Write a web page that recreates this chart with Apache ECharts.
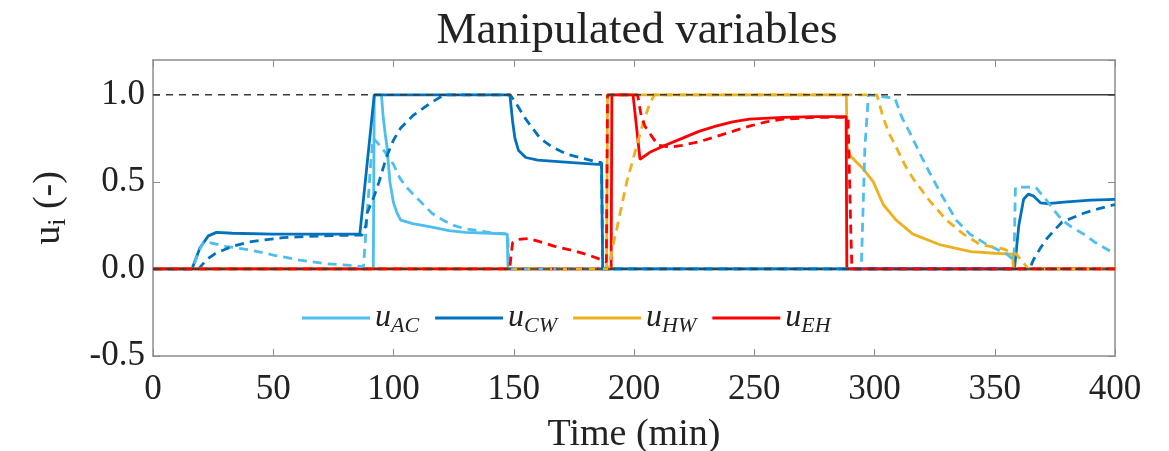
<!DOCTYPE html>
<html>
<head>
<meta charset="utf-8">
<script src="https://cdn.jsdelivr.net/npm/echarts@6/dist/echarts.min.js"></script>
<style>
  html, body { margin: 0; padding: 0; background: #fff; }
  #chart { width: 1169px; height: 451px; }
</style>
</head>
<body>
<div id="chart"></div>
<script>
// time (min), value (-)
var uAC = [[0,0],[91.6,0],[92,1],[95,1],[95.6,0.89],[96.5,0.78],[97.3,0.7],[98.5,0.5],[100,0.38],[101.5,0.32],[103,0.28],[108,0.26],[116,0.24],[123,0.22],[130,0.21],[140,0.205],[147.3,0.2],[147.6,0],[400,0]];
var uACp = [[0,0],[16.5,0],[19,0.1],[21,0.155],[24,0.15],[30,0.13],[40,0.11],[50,0.08],[61,0.05],[72,0.03],[82,0.02],[87.5,0.012],[88,0.02],[89,0.3],[90.5,0.6],[91.5,0.75],[93,0.73],[96,0.68],[100,0.6],[102.7,0.52],[106,0.46],[111,0.39],[116,0.32],[120.6,0.28],[125,0.25],[130,0.23],[140,0.21],[147.5,0.2],[148,0],[294.5,0],[296,0.7],[297.5,1],[308.5,0.98],[311.4,0.87],[314.8,0.78],[319,0.66],[323,0.55],[328.5,0.41],[334,0.28],[339.7,0.2],[346.8,0.14],[355,0.085],[358,0.05],[358.6,0.47],[367,0.47],[370,0.42],[374,0.35],[378,0.28],[382,0.24],[387,0.2],[392,0.15],[397,0.11],[400,0.09]];
var uCW = [[0,0],[16.2,0],[19.5,0.12],[23,0.19],[26.4,0.21],[33,0.205],[50,0.2],[86,0.2],[92,1],[148.4,1],[149.5,0.85],[150.5,0.75],[152,0.68],[155,0.64],[160,0.625],[170,0.615],[185,0.6],[186.5,0.6],[187,0],[358.2,0],[360,0.25],[362,0.4],[364,0.43],[366,0.42],[369,0.38],[372,0.375],[380,0.385],[390,0.395],[400,0.4]];
var uCWp = [[0,0],[19,0],[22,0.05],[26,0.09],[33,0.13],[40,0.155],[54,0.18],[70,0.19],[87,0.195],[88.5,0.25],[89,0.32],[92,0.42],[94,0.5],[97,0.64],[100,0.74],[103,0.81],[108,0.88],[115,0.95],[121,1],[148.5,1],[151,0.95],[155,0.86],[161,0.75],[166,0.7],[172,0.66],[183,0.62],[186.5,0.61],[187,0],[364.5,0],[366,0.05],[369,0.12],[372,0.18],[378,0.27],[387,0.32],[393,0.345],[400,0.37]];
var uHW = [[0,0],[188.6,0],[189,1],[288.3,1],[288.6,0.7],[290,0.65],[292,0.62],[295,0.58],[299.5,0.5],[303.6,0.37],[309,0.28],[316,0.2],[327,0.14],[340,0.1],[350,0.09],[357.4,0.085],[357.8,0],[400,0]];
var uHWp = [[0,0],[189.5,0],[191,0.12],[193,0.24],[197,0.5],[201,0.7],[204,0.85],[206.6,0.95],[208.5,1],[301,1],[303.6,0.87],[306,0.78],[309,0.7],[312.5,0.6],[316,0.52],[323,0.39],[330,0.28],[337,0.2],[344,0.14],[353.5,0.115],[359,0.085],[361,0.05],[364,0],[400,0]];
var uEH = [[0,0],[190.5,0],[190.8,1],[199.6,1],[202.5,0.63],[206.6,0.67],[213,0.71],[220,0.75],[227,0.79],[234,0.82],[241,0.845],[248,0.86],[262,0.87],[275,0.875],[288.2,0.875],[288.5,0],[400,0]];
var uEHp = [[0,0],[148.3,0],[149.5,0.15],[152,0.17],[156,0.175],[160,0.16],[167,0.13],[175,0.105],[181,0.08],[187,0.05],[188.5,0.04],[189,1],[201.5,1],[203,0.88],[204.5,0.82],[207.5,0.76],[210,0.71],[215,0.7],[220,0.71],[227,0.73],[234,0.76],[241,0.79],[248,0.82],[255,0.845],[262,0.86],[275,0.87],[289,0.87],[290,0.3],[290.6,0],[400,0]];
// limits
var upperDash = [[0,1],[315,1]];
var upperSolid = [[315,1],[400,1]];
var lowerDash = [[0,0],[400,0]];
var lowerSolid = [[358,0],[400,0]];

var names = { 'AC': '#4dbeee', 'CW': '#0072bd', 'HW': '#edb120', 'EH': '#ff0000' };
var serif = '"Liberation Serif", "Times New Roman", serif';

function solid(name, data, color) {
	return {
		name: name, type: 'line', data: data, showSymbol: false, z: 2,
		lineStyle: { color: color, width: 2.8 }, itemStyle: { color: color }
	};
}
function dashed(name, data, color) {
	return {
		name: name, type: 'line', data: data, showSymbol: false, z: 4,
		lineStyle: { color: color, width: 2.8, type: [9, 6] }, itemStyle: { color: color }
	};
}
function limit(name, data, type, z) {
	return {
		name: name, type: 'line', data: data, showSymbol: false, z: z, silent: true,
		lineStyle: { color: '#3a3a3a', width: 1.6, type: type }
	};
}

var axisCol = '#8c8c8c';
function frameAxis(extra) {
	var a = {
		axisLine: { show: true, onZero: false, lineStyle: { color: axisCol, width: 1.5 } },
		axisTick: { inside: true, length: 7, lineStyle: { color: axisCol } },
		splitLine: { show: false }
	};
	for (var k in extra) a[k] = extra[k];
	return a;
}

var myChart = echarts.init(document.getElementById('chart'));

var options = {
	animation: false,
	backgroundColor: '#fff',
	title: {
		text: 'Manipulated variables',
		left: 632, top: 4, textAlign: 'center',
		textStyle: { fontFamily: serif, fontWeight: 'normal', fontSize: 45, color: '#222' }
	},
	legend: {
		data: ['AC', 'CW', 'HW', 'EH'],
		left: 297, top: 297,
		icon: 'rect', itemWidth: 68, itemHeight: 3, itemGap: 16,
		formatter: function(name) { return '{u|u}{s|' + name + '}'; },
		textStyle: {
			color: '#222',
			rich: {
				u: { fontFamily: serif, fontStyle: 'italic', fontSize: 32, color: '#222' },
				s: { fontFamily: serif, fontStyle: 'italic', fontSize: 22, color: '#222', padding: [16, 0, 0, 0] }
			}
		}
	},
	grid: { left: 153, right: 54, top: 60, bottom: 95, outerBoundsMode: 'none', containLabel: false },
	xAxis: [
		frameAxis({
			type: 'value', min: 0, max: 400, interval: 50, position: 'bottom',
			name: 'Time (min)', nameLocation: 'middle', nameGap: 60,
			nameTextStyle: { fontFamily: serif, fontSize: 38, color: '#222' },
			axisLabel: { fontFamily: serif, fontSize: 35, color: '#222', margin: 16 }
		}),
		frameAxis({
			type: 'value', min: 0, max: 400, interval: 50, position: 'top',
			axisLabel: { show: false }
		})
	],
	yAxis: [
		frameAxis({
			type: 'value', min: -0.5, max: 1.2, interval: 0.5, position: 'left',
			name: '{u|u}{s|i}{p| (-)}', nameLocation: 'middle', nameGap: 82, nameRotate: 90,
			nameTextStyle: {
				rich: {
					u: { fontFamily: serif, fontSize: 38, color: '#222' },
					s: { fontFamily: serif, fontSize: 26, color: '#222', padding: [18, 0, 0, 0] },
					p: { fontFamily: serif, fontSize: 38, color: '#222' }
				}
			},
			axisLabel: {
				fontFamily: serif, fontSize: 35, color: '#222', margin: 8, showMaxLabel: false,
				formatter: function(v) { return v.toFixed(1); }
			}
		}),
		frameAxis({
			type: 'value', min: -0.5, max: 1.2, interval: 0.5, position: 'right',
			axisLabel: { show: false }
		})
	],
	series: [
		solid('AC', uAC, names.AC),
		solid('CW', uCW, names.CW),
		solid('HW', uHW, names.HW),
		solid('EH', uEH, names.EH),
		limit('upper', upperSolid, 'solid', 3),
		limit('lower', lowerSolid, 'solid', 3),
		dashed('AC pred', uACp, names.AC),
		dashed('CW pred', uCWp, names.CW),
		dashed('HW pred', uHWp, names.HW),
		dashed('EH pred', uEHp, names.EH),
		limit('upper dash', upperDash, [7, 6], 5),
		limit('lower dash', lowerDash, [7, 6], 5)
	]
};

myChart.setOption(options);
</script>
</body>
</html>
